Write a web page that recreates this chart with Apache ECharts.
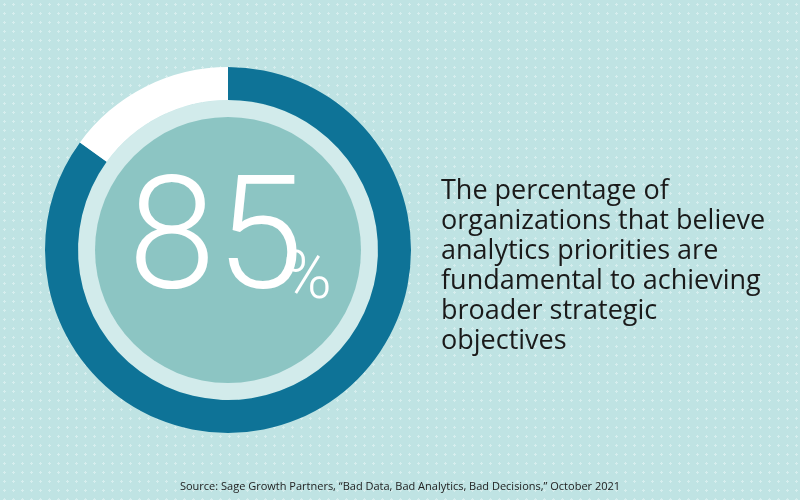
<!DOCTYPE html>
<html><head><meta charset="utf-8">
<script src="https://cdn.jsdelivr.net/npm/echarts@6/dist/echarts.min.js"></script>
<style>
html,body{margin:0;padding:0;}
#c{width:800px;height:500px;background-color:#bfe3e3;background-image:radial-gradient(circle,#d6eeee 1px,transparent 1.3px);background-size:9px 9px;}
</style></head><body><div id="c"></div>
<script>
const categories=['Believe fundamental','Other'];
const values=[85,15];
const headline='85';
const descLines=['The percentage of','organizations that believe','analytics priorities are','fundamental to achieving','broader strategic','objectives'];
const source='Source: Sage Growth Partners, \u201cBad Data, Bad Analytics, Bad Decisions,\u201d October 2021';
const chart=echarts.init(document.getElementById('c'));
chart.setOption({
  backgroundColor:'transparent',
  series:[
    {type:'pie',center:[228,250],radius:[0,150],silent:true,label:{show:false},data:[{value:1,itemStyle:{color:'#d2ebeb'}}]},
    {type:'pie',center:[228,250],radius:[0,133],silent:true,label:{show:false},data:[{value:1,itemStyle:{color:'#8cc5c3'}}]},
    {type:'pie',center:[228,250],radius:[150,183],startAngle:90,clockwise:true,silent:true,label:{show:false},
     data:categories.map((c,i)=>({name:c,value:values[i],itemStyle:{color:i===0?'#0e7397':'#ffffff'}}))}
  ],
  graphic:[
    {type:'text',z:100,left:128,top:168,style:{text:headline,fill:'#fff',font:'300 158px Roboto, "Open Sans", sans-serif'}},
    {type:'text',z:100,left:283,top:248,style:{text:'%',fill:'#fff',font:'300 66px Roboto, "Open Sans", sans-serif'}},
    {type:'text',z:100,left:441,top:176,style:{text:descLines.join('\n'),fill:'#1a1a1a',font:'27px "Open Sans", sans-serif',lineHeight:30}},
    {type:'text',z:100,left:'center',top:481,style:{text:source,fill:'#222',font:'11px "Open Sans", sans-serif'}}
  ]
});
</script></body></html>
